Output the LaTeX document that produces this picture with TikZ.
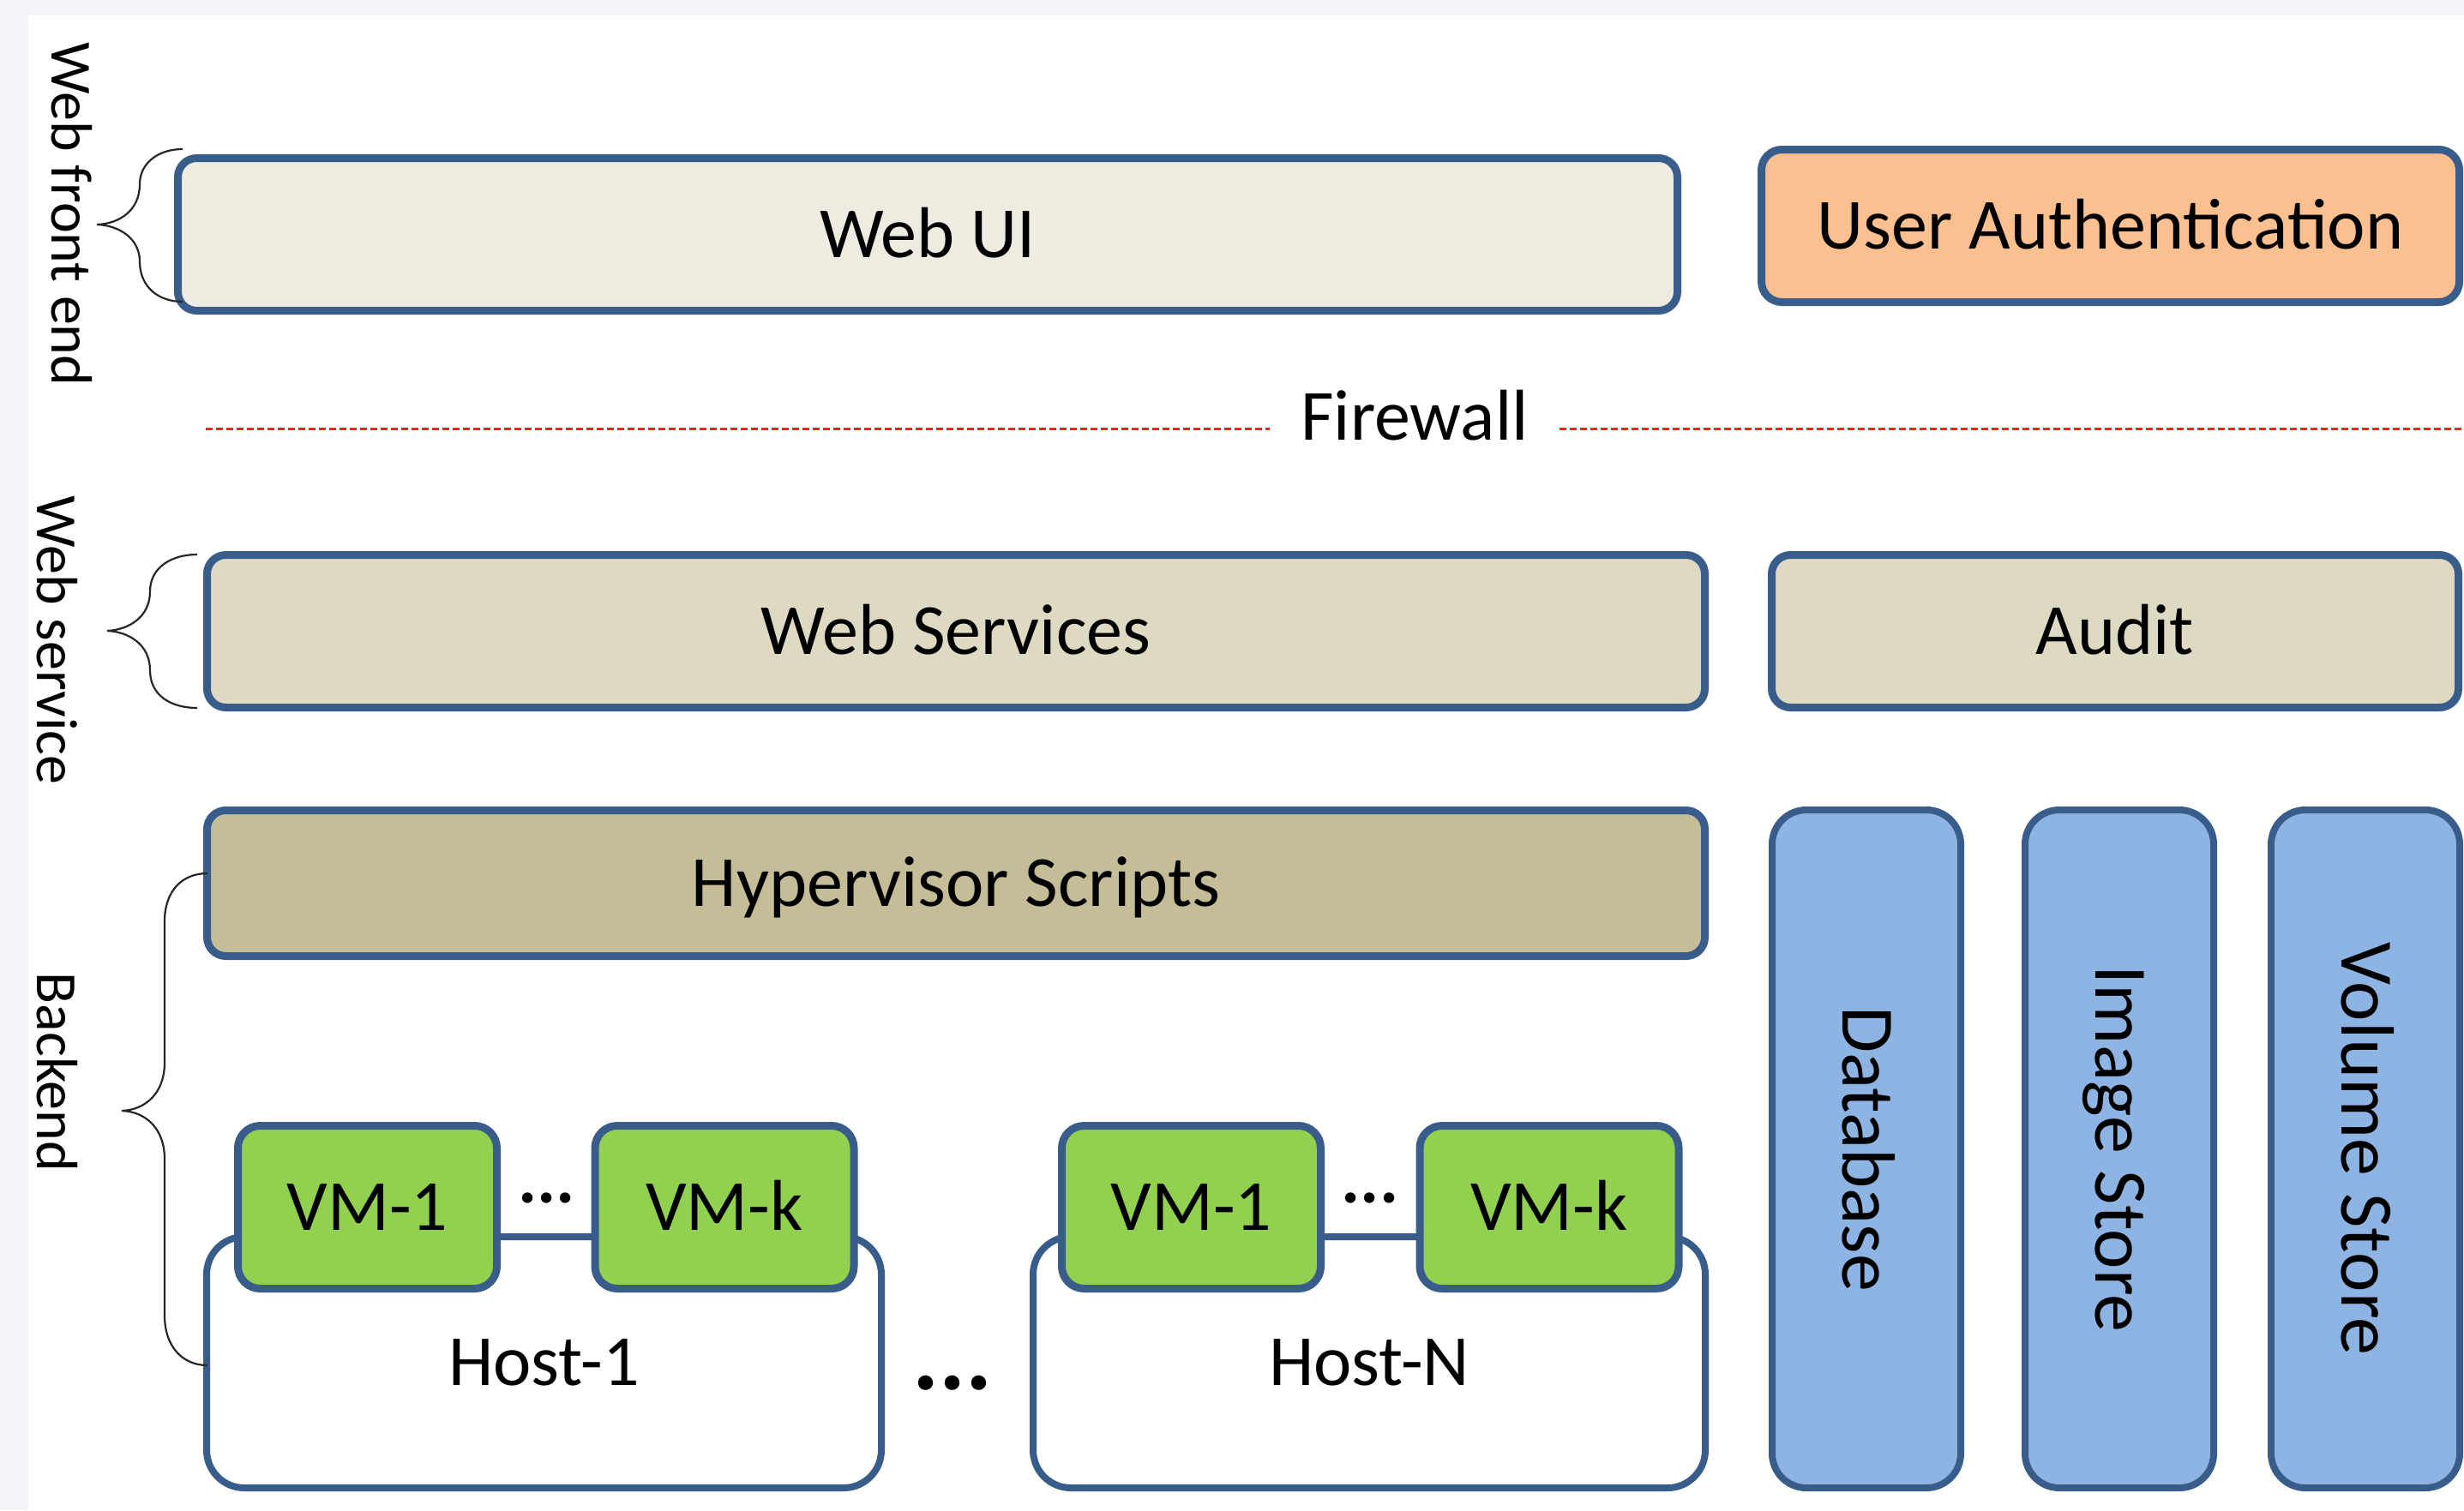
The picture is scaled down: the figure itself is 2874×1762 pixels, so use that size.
\documentclass[tikz,border=0pt]{standalone}
\usepackage{fontspec}
\setmainfont{Carlito}
\definecolor{edge}{RGB}{56,93,138}
\definecolor{uifill}{RGB}{238,236,225}
\definecolor{svcfill}{RGB}{221,217,195}
\definecolor{hypfill}{RGB}{196,189,151}
\definecolor{authfill}{RGB}{250,192,144}
\definecolor{vmfill}{RGB}{146,208,80}
\definecolor{storefill}{RGB}{142,180,227}
\definecolor{pagegray}{RGB}{242,244,248}
\definecolor{fwred}{RGB}{255,30,30}
\tikzset{
  boxtext/.style={font=\fontsize{42}{50}\selectfont, text height=26.5pt, text depth=0pt,
    inner sep=0pt, outer sep=0pt, align=center},
  bar/.style={boxtext, draw=edge, line width=4.5pt, rounded corners=11pt},
  hostbox/.style={boxtext, draw=edge, fill=white, line width=4pt, rounded corners=22pt,
    minimum height=146.5pt},
  vmbox/.style={boxtext, draw=edge, fill=vmfill, line width=4.5pt, rounded corners=13pt,
    minimum width=151pt, minimum height=95pt},
  storebox/.style={boxtext, font=\fontsize{44}{52}\selectfont, text height=27.8pt,
    draw=edge, fill=storefill, line width=4pt, rounded corners=20pt,
    rotate=-90, minimum width=395.5pt, minimum height=110pt},
  sidelabel/.style={font=\fontsize{34}{40}\selectfont, text height=21.5pt, text depth=0pt,
    inner sep=0pt, rotate=-90},
  smalldots/.style={font=\fontsize{41.5}{48}\selectfont\bfseries, inner sep=0pt, anchor=base},
  bigdots/.style={font=\fontsize{58}{66}\selectfont\bfseries, inner sep=0pt, anchor=base},
  fwline/.style={draw=fwred, line width=1.5pt, dash pattern=on 4pt off 2pt},
  bracket/.style={draw=black!85, line width=1.1pt}
}
\begin{document}
\begin{tikzpicture}[x=0.5pt,y=-0.5pt]
\useasboundingbox (0,0) rectangle (2874,1762);
% page background
\fill[pagegray] (0,0) rectangle (2874,1762);
\fill[white] (33,18) rectangle (2874,1762);

% front end tier
\node[bar, fill=uifill, minimum width=874.5pt, minimum height=89pt] (webui) at (1082,273.5) {Web UI};
\node[bar, fill=authfill, rounded corners=12pt, minimum width=407pt, minimum height=89pt] (auth) at (2461.5,263.5) {User Authentication};

% firewall
\node[boxtext, inner xsep=18pt] (fw) at (1650,487) {Firewall};
\coordinate (fwL) at (240,500);
\coordinate (fwR) at (2874,500);
\draw[fwline] (fwL) -- (fwL -| fw.west);
\draw[fwline] (fw.east |- fwR) -- (fwR);

% web service tier
\node[bar, fill=svcfill, minimum width=873.5pt, minimum height=89pt] (websvc) at (1115,736.5) {Web Services};
\node[bar, fill=svcfill, minimum width=400.5pt, minimum height=89pt] (audit) at (2467,736.5) {Audit};

% backend
\node[bar, fill=hypfill, minimum width=873.5pt, minimum height=85pt] (hyper) at (1115,1030.5) {Hypervisor Scripts};

\node[hostbox, minimum width=393.5pt] (host1) at (634.5,1589.5) {Host-1};
\node[hostbox, minimum width=392pt] (hostN) at (1597,1589.5) {Host-N};

\node[vmbox] (vmA1) at (428.5,1408.5) {VM-1};
\node[vmbox] (vmAk) at (845,1408.5) {VM-k};
\node[vmbox] (vmN1) at (1389.5,1408.5) {VM-1};
\node[vmbox] (vmNk) at (1807,1408.5) {VM-k};

\node[smalldots] (dotsA) at (637.5,1403) {...};
\node[smalldots] (dotsN) at (1598,1403) {...};
\node[bigdots] (dotsH) at (1111,1621.5) {...};

% storage columns
\node[storebox] (db) at (2177,1340.5) {Database};
\node[storebox] (img) at (2472,1340.5) {Image Store};
\node[storebox] (vol) at (2759,1340.5) {Volume Store};

% tier labels
\node[sidelabel] (lblfront) at (82,250) {Web front end};
\node[sidelabel] (lblsvc) at (65,747) {Web service};
\node[sidelabel] (lblback) at (65,1251) {Backend};

% curly brackets
\draw[bracket] (213,174) .. controls (185,174) and (163,190) .. (163,215)
  .. controls (163,245) and (140,261) .. (113,262)
  .. controls (140,263) and (163,279) .. (163,305)
  .. controls (163,335) and (185,352) .. (213,352);
\draw[bracket] (230,647) .. controls (200,647) and (175,662) .. (175,690)
  .. controls (175,720) and (150,735) .. (125,736)
  .. controls (150,737) and (175,752) .. (175,782)
  .. controls (175,812) and (200,826) .. (230,826);
\draw[bracket] (242,1019) .. controls (212,1019) and (192,1040) .. (192,1075)
  -- (192,1240) .. controls (192,1275) and (170,1295) .. (142,1296)
  .. controls (170,1297) and (192,1317) .. (192,1352)
  -- (192,1535) .. controls (192,1570) and (212,1593) .. (242,1593);
\end{tikzpicture}
\end{document}
